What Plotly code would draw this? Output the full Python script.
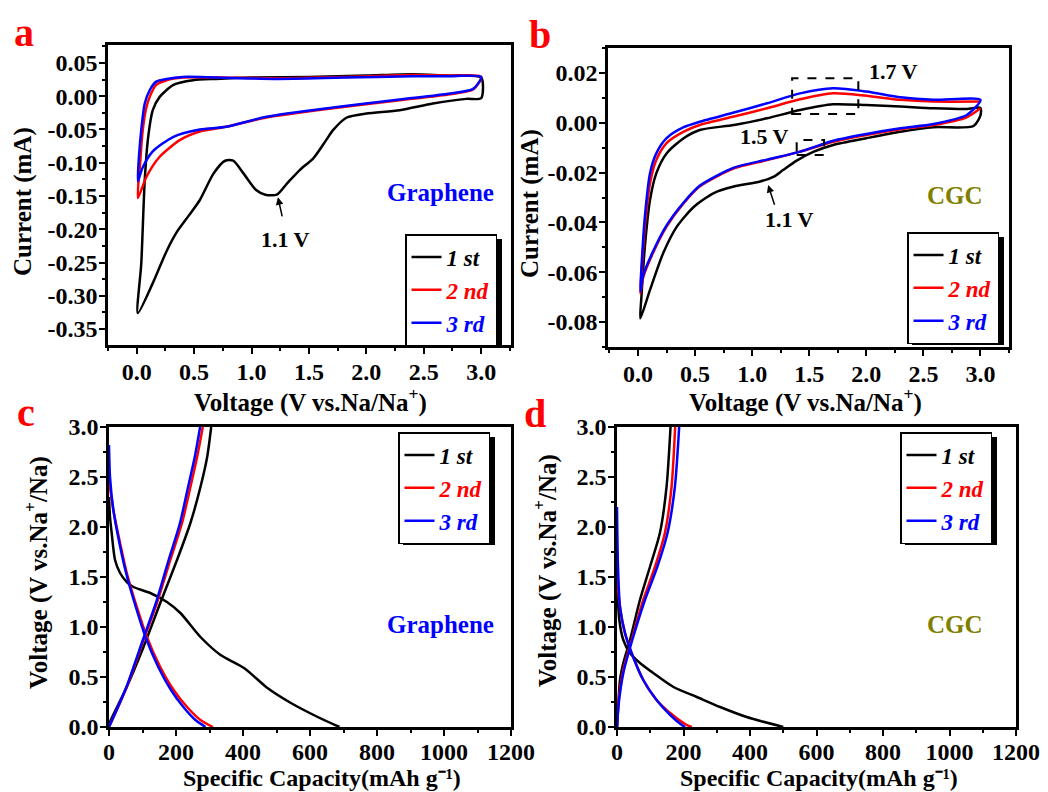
import plotly.graph_objects as go

# ---------------- data ----------------
# Panel a : CV of graphene (V, mA); each cycle = cathodic branch then anodic branch
a1_v = [3.0, 3.0, 2.87, 2.58, 2.29, 2.0, 1.83, 1.71, 1.65, 1.54, 1.42, 1.31, 1.22, 1.12, 1.04, 0.93, 0.84, 0.77,
        0.67, 0.55, 0.46, 0.35, 0.26, 0.14, 0.01,
        0.04, 0.07, 0.10, 0.14, 0.20, 0.32, 0.49, 0.69, 1.0, 1.5, 2.0, 2.4, 2.7, 3.0]
a1_i = [0.028, -0.003, -0.004, -0.011, -0.021, -0.026, -0.032, -0.051, -0.066, -0.093, -0.111, -0.131, -0.148,
        -0.148, -0.141, -0.116, -0.097, -0.097, -0.116, -0.156, -0.178, -0.204, -0.233, -0.281, -0.326,
        -0.251, -0.126, -0.061, -0.021, -0.001, 0.017, 0.024, 0.026, 0.028, 0.029, 0.031, 0.033, 0.031, 0.028]
a2_v = [3.0, 2.93, 2.73, 2.29, 1.71, 1.13, 0.78, 0.55, 0.375, 0.2, 0.085, 0.01,
        0.03, 0.05, 0.08, 0.113, 0.17, 0.26, 0.4, 0.7, 1.2, 1.8, 2.4, 2.7, 3.0]
a2_i = [0.029, 0.010, 0.003, -0.006, -0.018, -0.032, -0.046, -0.053, -0.066, -0.091, -0.121, -0.153,
        -0.100, -0.055, -0.020, -0.001, 0.017, 0.024, 0.028, 0.028, 0.027, 0.029, 0.032, 0.031, 0.029]
a3_v = [3.0, 2.93, 2.73, 2.29, 1.71, 1.13, 0.78, 0.55, 0.32, 0.14, 0.05, 0.01,
        0.02, 0.04, 0.07, 0.113, 0.17, 0.26, 0.4, 0.7, 1.2, 1.8, 2.4, 2.7, 3.0]
a3_i = [0.029, 0.011, 0.004, -0.005, -0.017, -0.031, -0.046, -0.050, -0.061, -0.083, -0.108, -0.128,
        -0.090, -0.050, -0.011, 0.009, 0.022, 0.026, 0.029, 0.028, 0.026, 0.028, 0.030, 0.030, 0.029]

# Panel b : CV of CGC
b1_v = [3.0, 3.0, 2.94, 2.59, 2.3, 2.0, 1.71, 1.54, 1.39, 1.27, 1.19, 1.07, 0.84, 0.66, 0.49, 0.34, 0.22, 0.105, 0.02,
        0.03, 0.06, 0.105, 0.16, 0.25, 0.4, 0.54, 0.84, 1.13, 1.42, 1.71, 2.0, 2.3, 2.59, 2.88, 3.0]
b1_i = [0.006, 0.003, -0.0013, -0.0018, -0.0036, -0.0062, -0.0089, -0.0116, -0.0152, -0.019, -0.0216, -0.0236,
        -0.0256, -0.0283, -0.0337, -0.0417, -0.0524, -0.0671, -0.0785,
        -0.0698, -0.0497, -0.031, -0.0203, -0.0123, -0.0062, -0.0029, -0.0009, 0.0018, 0.0051, 0.0074, 0.0071,
        0.0065, 0.0058, 0.0055, 0.006]
b2_v = [3.0, 2.88, 2.59, 2.3, 2.0, 1.71, 1.42, 1.13, 0.84, 0.54, 0.4, 0.25, 0.13, 0.047, 0.02,
        0.03, 0.06, 0.105, 0.16, 0.25, 0.4, 0.54, 0.84, 1.13, 1.42, 1.71, 2.0, 2.3, 2.59, 3.0]
b2_i = [0.0058, 0.0022, -0.0009, -0.0026, -0.0049, -0.0076, -0.0116, -0.015, -0.0183, -0.0256, -0.0323, -0.0417,
        -0.0524, -0.0618, -0.0685,
        -0.0605, -0.0417, -0.0243, -0.015, -0.0082, -0.0036, -0.0009, 0.0025, 0.0058, 0.0094, 0.0118, 0.0108,
        0.0092, 0.0085, 0.0085]
b3_v = [3.0, 2.88, 2.59, 2.3, 2.0, 1.71, 1.42, 1.13, 0.84, 0.54, 0.4, 0.25, 0.13, 0.047, 0.02,
        0.03, 0.06, 0.105, 0.16, 0.25, 0.4, 0.54, 0.84, 1.13, 1.42, 1.71, 2.0, 2.3, 2.59, 3.0]
b3_i = [0.0092, 0.0031, -0.0005, -0.0022, -0.0045, -0.0072, -0.0116, -0.0148, -0.0180, -0.0253, -0.0320, -0.0412,
        -0.0518, -0.061, -0.0678,
        -0.058, -0.0377, -0.0203, -0.0123, -0.0062, -0.0018, 0.0004, 0.0041, 0.0078, 0.0118, 0.0138, 0.0125,
        0.0102, 0.0092, 0.0092]

# Panel c : charge/discharge of graphene (mAh/g, V)
c1_dis_cap = [0, 3, 8, 18, 33, 53, 73, 123, 173, 213, 273, 333, 403, 473, 543, 623, 688]
c1_dis_v = [2.3, 2.1, 1.94, 1.67, 1.54, 1.45, 1.40, 1.34, 1.25, 1.14, 0.90, 0.72, 0.59, 0.39, 0.24, 0.10, 0.0]
c1_chg_cap = [0, 3, 53, 103, 153, 203, 243, 273, 293, 305]
c1_chg_v = [0, 0.05, 0.40, 0.80, 1.24, 1.67, 2.04, 2.40, 2.70, 3.0]
c2_dis_cap = [0, 13, 33, 53, 83, 113, 153, 193, 233, 273, 310]
c2_dis_v = [2.47, 2.17, 1.84, 1.54, 1.20, 0.90, 0.60, 0.37, 0.20, 0.07, 0.0]
c2_chg_cap = [0, 53, 103, 143, 183, 218, 243, 263, 280]
c2_chg_v = [0, 0.40, 0.87, 1.24, 1.67, 2.04, 2.40, 2.70, 3.0]
c3_dis_cap = [0, 3, 13, 31, 51, 80, 109, 147, 185, 222, 258, 288]
c3_dis_v = [2.82, 2.5, 2.17, 1.84, 1.54, 1.20, 0.90, 0.60, 0.37, 0.20, 0.07, 0.0]
c3_chg_cap = [0, 52, 101, 140, 178, 212, 236, 256, 272]
c3_chg_v = [0, 0.40, 0.87, 1.24, 1.67, 2.04, 2.40, 2.70, 3.0]

# Panel d : charge/discharge of CGC
d1_dis_cap = [0, 7, 19, 39, 69, 109, 170, 240, 310, 390, 500]
d1_dis_v = [1.47, 1.07, 0.87, 0.74, 0.64, 0.54, 0.40, 0.30, 0.20, 0.10, 0.0]
d1_chg_cap = [0, 2, 9, 19, 39, 69, 99, 129, 149, 161]
d1_chg_v = [0, 0.1, 0.47, 0.64, 0.87, 1.27, 1.6, 1.94, 2.4, 3.0]
d2_dis_cap = [0, 9, 24, 44, 79, 119, 160, 210, 225]
d2_dis_v = [1.5, 1.2, 0.94, 0.74, 0.47, 0.27, 0.14, 0.02, 0.0]
d2_chg_cap = [0, 5, 19, 44, 79, 114, 144, 164, 175]
d2_chg_v = [0, 0.27, 0.57, 0.87, 1.27, 1.6, 1.94, 2.4, 3.0]
d3_dis_cap = [0, 3, 9, 24, 44, 79, 119, 160, 195, 205]
d3_dis_v = [2.2, 1.6, 1.2, 0.94, 0.74, 0.47, 0.27, 0.12, 0.02, 0.0]
d3_chg_cap = [0, 4, 19, 46, 84, 121, 152, 174, 187]
d3_chg_v = [0, 0.2, 0.54, 0.87, 1.27, 1.6, 1.94, 2.4, 3.0]

cycle_names = ["1 st", "2 nd", "3 rd"]
cycle_colors = ["#000000", "#FF0000", "#0000FF"]

cv_vticks = [0.0, 0.5, 1.0, 1.5, 2.0, 2.5, 3.0]
cv_vtext = ["0.0", "0.5", "1.0", "1.5", "2.0", "2.5", "3.0"]
a_iticks = [0.05, 0.0, -0.05, -0.10, -0.15, -0.20, -0.25, -0.30, -0.35]
a_itext = ["0.05", "0.00", "-0.05", "-0.10", "-0.15", "-0.20", "-0.25", "-0.30", "-0.35"]
b_iticks = [0.02, 0.0, -0.02, -0.04, -0.06, -0.08]
b_itext = ["0.02", "0.00", "-0.02", "-0.04", "-0.06", "-0.08"]
cap_ticks = [0, 200, 400, 600, 800, 1000, 1200]
cap_text = ["0", "200", "400", "600", "800", "1000", "1200"]
gv_ticks = [0.0, 0.5, 1.0, 1.5, 2.0, 2.5, 3.0]
gv_text = ["0.0", "0.5", "1.0", "1.5", "2.0", "2.5", "3.0"]

# ---------------- figure ----------------
W, H = 1048, 792
FONT = "Liberation Serif"


def px(x):
    return x / W


def py(y):
    return 1 - y / H


fig = go.Figure()


def legname(i):
    return '<span style="color:%s"><i>%s</i></span>' % (cycle_colors[i], cycle_names[i])


cv_sets = [
    ("x", "y", "legend", [(a1_v, a1_i), (a2_v, a2_i), (a3_v, a3_i)]),
    ("x2", "y2", "legend2", [(b1_v, b1_i), (b2_v, b2_i), (b3_v, b3_i)]),
]
for xa, ya, lg, curves in cv_sets:
    for i, (vv, ii) in enumerate(curves):
        fig.add_trace(go.Scatter(x=vv, y=ii, mode="lines", xaxis=xa, yaxis=ya, legend=lg,
                                 name=legname(i),
                                 line=dict(color=cycle_colors[i], width=2.5, shape="spline", smoothing=0.7)))

gc_sets = [
    ("x3", "y3", "legend3", [(c1_dis_cap, c1_dis_v, c1_chg_cap, c1_chg_v),
                             (c2_dis_cap, c2_dis_v, c2_chg_cap, c2_chg_v),
                             (c3_dis_cap, c3_dis_v, c3_chg_cap, c3_chg_v)]),
    ("x4", "y4", "legend4", [(d1_dis_cap, d1_dis_v, d1_chg_cap, d1_chg_v),
                             (d2_dis_cap, d2_dis_v, d2_chg_cap, d2_chg_v),
                             (d3_dis_cap, d3_dis_v, d3_chg_cap, d3_chg_v)]),
]
for xa, ya, lg, curves in gc_sets:
    for i, (dc, dv, cc, cv) in enumerate(curves):
        fig.add_trace(go.Scatter(x=dc, y=dv, mode="lines", xaxis=xa, yaxis=ya, legend=lg,
                                 name=legname(i), legendgroup=lg + str(i),
                                 line=dict(color=cycle_colors[i], width=2.5, shape="spline", smoothing=0.7)))
        fig.add_trace(go.Scatter(x=cc, y=cv, mode="lines", xaxis=xa, yaxis=ya, legend=lg,
                                 name=legname(i), legendgroup=lg + str(i), showlegend=False,
                                 line=dict(color=cycle_colors[i], width=2.5, shape="spline", smoothing=0.7)))

# domains in pixels (left, right, top, bottom)
doms = {
    "a": (108, 511, 45, 345),
    "b": (608, 1009, 48, 347),
    "c": (109, 511, 427, 727),
    "d": (617, 1016, 427, 727),
}

axis_common = dict(showline=True, linewidth=2.5, linecolor="black", mirror=True, showgrid=False,
                   zeroline=False, ticks="outside", ticklen=6, tickwidth=2, tickcolor="black",
                   automargin=False, tickfont=dict(family=FONT, size=24, color="black", weight="bold"))


def mk_axis(dom, rng, tv, tt, minor_dt, anchor, standoff):
    d = dict(axis_common)
    d.update(domain=dom, range=rng, tickvals=tv, ticktext=tt, anchor=anchor, ticklabelstandoff=standoff,
             minor=dict(ticks="outside", ticklen=3.5, tickwidth=2, tickcolor="black", dtick=minor_dt, tick0=0))
    return d


XS, YS, XS2 = -3, -3, -5
L, R, T, B = doms["a"]
fig.update_layout(
    xaxis=mk_axis([px(L), px(R)], [-0.25, 3.26], cv_vticks, cv_vtext, 0.25, "y", XS),
    yaxis=mk_axis([py(B), py(T)], [-0.374, 0.077], a_iticks, a_itext, 0.025, "x", YS),
)
L, R, T, B = doms["b"]
fig.update_layout(
    xaxis2=mk_axis([px(L), px(R)], [-0.263, 3.25], cv_vticks, cv_vtext, 0.25, "y2", XS),
    yaxis2=mk_axis([py(B), py(T)], [-0.090, 0.030], b_iticks, b_itext, 0.01, "x2", YS),
)
L, R, T, B = doms["c"]
fig.update_layout(
    xaxis3=mk_axis([px(L), px(R)], [0, 1200], cap_ticks, cap_text, 100, "y3", XS2),
    yaxis3=mk_axis([py(B), py(T)], [0, 3.0], gv_ticks, gv_text, 0.25, "x3", YS),
)
L, R, T, B = doms["d"]
fig.update_layout(
    xaxis4=mk_axis([px(L), px(R)], [0, 1200], cap_ticks, cap_text, 100, "y4", XS2),
    yaxis4=mk_axis([py(B), py(T)], [0, 3.0], gv_ticks, gv_text, 0.25, "x4", YS),
)

# legends (top-left pixel positions)
leg_pos = {"legend": (405, 234), "legend2": (907, 232), "legend3": (398, 432), "legend4": (900, 432)}
leg_size = (92, 108)
SH = 5
shapes = []
for lg, (lx, ly) in leg_pos.items():
    fig.update_layout({lg: dict(x=px(lx), y=py(ly), xanchor="left", yanchor="top",
                                bgcolor="white", bordercolor="black", borderwidth=1.5,
                                font=dict(family=FONT, size=23, color="black", weight="bold"),
                                itemwidth=30, tracegroupgap=0)})
    shapes.append(dict(type="rect", xref="paper", yref="paper", layer="above",
                       x0=px(lx + SH), x1=px(lx + leg_size[0] + SH),
                       y0=py(ly + leg_size[1] + SH), y1=py(ly + SH),
                       fillcolor="black", line=dict(width=0)))

# dashed boxes in panel b
shapes.append(dict(type="rect", xref="x2", yref="y2", x0=1.35, x1=1.93, y0=0.0035, y1=0.0179,
                   line=dict(color="black", width=2, dash="dash")))
shapes.append(dict(type="rect", xref="x2", yref="y2", x0=1.39, x1=1.63, y0=-0.0129, y1=-0.0069,
                   line=dict(color="black", width=2, dash="dash")))
fig.update_layout(shapes=shapes)

annots = []
# panel letters
for letter, (lx, ly) in {"a": (24, 33), "b": (540, 34), "c": (26, 412), "d": (535, 413)}.items():
    annots.append(dict(text=letter, x=px(lx), y=py(ly), xref="paper", yref="paper", showarrow=False,
                       xanchor="center", yanchor="middle",
                       font=dict(family=FONT, size=40, color="#FF0000", weight="bold")))

title_font = dict(family=FONT, size=25, color="black", weight="bold")
title_font_small = dict(family=FONT, size=24, color="black", weight="bold")
axis_titles = [
    ("Voltage (V vs.Na/Na<sup>+</sup>)", 310, 401, 0, title_font),
    ("Voltage (V vs.Na/Na<sup>+</sup>)", 805, 401, 0, title_font),
    ("Current (mA)", 23, 202, -90, title_font),
    ("Current (mA)", 530, 204, -90, title_font),
    ("Specific Capacity(mAh g\u207b\u00b9)", 322, 778, 0, title_font_small),
    ("Specific Capacity(mAh g\u207b\u00b9)", 819, 778, 0, title_font_small),
    ("Voltage (V vs.Na<sup>+</sup>/Na)", 36, 573, -90, title_font),
    ("Voltage (V vs.Na<sup>+</sup>/Na)", 545, 571, -90, title_font),
]
for txt, tx, ty, ang, fnt in axis_titles:
    annots.append(dict(text=txt, x=px(tx), y=py(ty), xref="paper", yref="paper", showarrow=False,
                       xanchor="center", yanchor="middle", textangle=ang, font=fnt))

note_font = dict(family=FONT, size=22, color="black", weight="bold")
# panel a notes
annots.append(dict(text="1.1 V", x=1.30, y=-0.216, xref="x", yref="y", showarrow=False, font=note_font))
annots.append(dict(text="", x=1.23, y=-0.152, ax=1.27, ay=-0.183, xref="x", yref="y", axref="x", ayref="y",
                   showarrow=True, arrowhead=2, arrowsize=1, arrowwidth=1.5, arrowcolor="black"))
annots.append(dict(text="Graphene", x=2.65, y=-0.144, xref="x", yref="y", showarrow=False,
                   font=dict(family=FONT, size=25, color="#0000FF", weight="bold")))
# panel b notes
annots.append(dict(text="1.7 V", x=2.24, y=0.0204, xref="x2", yref="y2", showarrow=False, font=note_font))
annots.append(dict(text="1.5 V", x=1.11, y=-0.0057, xref="x2", yref="y2", showarrow=False, font=note_font))
annots.append(dict(text="1.1 V", x=1.33, y=-0.039, xref="x2", yref="y2", showarrow=False, font=note_font))
annots.append(dict(text="", x=1.14, y=-0.025, ax=1.20, ay=-0.0335, xref="x2", yref="y2", axref="x2", ayref="y2",
                   showarrow=True, arrowhead=2, arrowsize=1, arrowwidth=1.5, arrowcolor="black"))
annots.append(dict(text="CGC", x=2.78, y=-0.029, xref="x2", yref="y2", showarrow=False,
                   font=dict(family=FONT, size=25, color="#808000", weight="bold")))
# panel c, d notes
annots.append(dict(text="Graphene", x=991, y=1.03, xref="x3", yref="y3", showarrow=False,
                   font=dict(family=FONT, size=25, color="#0000FF", weight="bold")))
annots.append(dict(text="CGC", x=1017, y=1.03, xref="x4", yref="y4", showarrow=False,
                   font=dict(family=FONT, size=25, color="#808000", weight="bold")))

fig.update_layout(
    annotations=annots,
    width=W, height=H,
    margin=dict(l=0, r=0, t=0, b=0),
    paper_bgcolor="white", plot_bgcolor="white",
    font=dict(family=FONT, size=22, color="black", weight="bold"),
    showlegend=True,
)

fig.write_html("out.html")
